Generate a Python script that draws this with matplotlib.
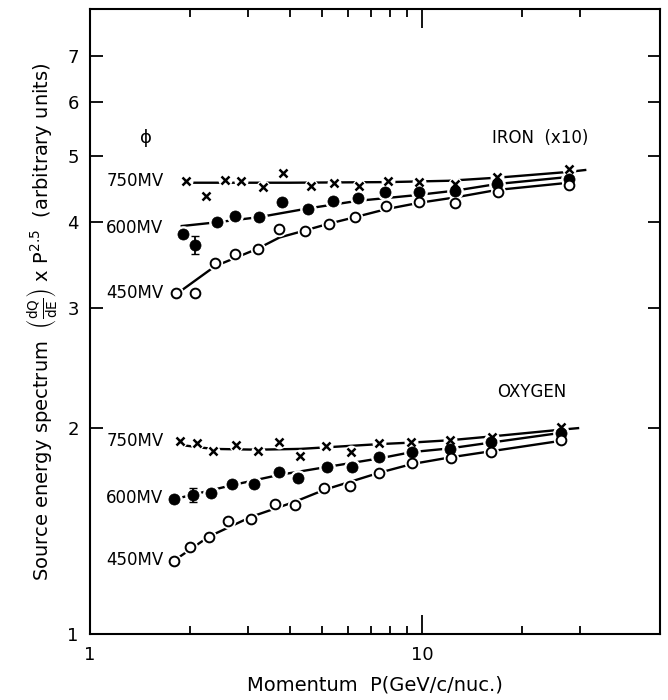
import numpy as np
import matplotlib
matplotlib.use("Agg")
import matplotlib.pyplot as plt
from matplotlib.ticker import FixedLocator, NullFormatter

plt.rcParams['font.family'] = ['DejaVu Sans']
plt.rcParams['mathtext.default'] = 'regular'

# ---- dados ----
# IRON (x10)
fe750_x = [1.95, 2.23, 2.55, 2.84, 3.32, 3.82, 4.62, 5.43, 6.48, 7.91, 9.79, 12.6, 16.8, 27.7]
fe750_y = [4.60, 4.37, 4.61, 4.60, 4.50, 4.73, 4.52, 4.57, 4.52, 4.60, 4.58, 4.55, 4.66, 4.78]
fe600_x = [1.91, 2.07, 2.41, 2.74, 3.23, 3.80, 4.52, 5.40, 6.41, 7.75, 9.77, 12.6, 16.8, 27.7]
fe600_y = [3.85, 3.71, 4.00, 4.08, 4.07, 4.28, 4.19, 4.30, 4.34, 4.43, 4.43, 4.44, 4.55, 4.62]
fe450_x = [1.82, 2.07, 2.38, 2.73, 3.20, 3.72, 4.43, 5.23, 6.29, 7.78, 9.77, 12.6, 16.9, 27.7]
fe450_y = [3.15, 3.15, 3.49, 3.59, 3.66, 3.91, 3.88, 3.98, 4.07, 4.22, 4.28, 4.27, 4.43, 4.54]

# OXYGEN
ox750_x = [1.87, 2.10, 2.34, 2.75, 3.20, 3.70, 4.29, 5.15, 6.12, 7.40, 9.28, 12.1, 16.2, 26.3]
ox750_y = [1.917, 1.905, 1.852, 1.888, 1.852, 1.907, 1.820, 1.883, 1.848, 1.905, 1.909, 1.921, 1.943, 2.005]
ox600_x = [1.79, 2.04, 2.32, 2.67, 3.12, 3.70, 4.23, 5.17, 6.15, 7.43, 9.31, 12.1, 16.1, 26.3]
ox600_y = [1.574, 1.597, 1.609, 1.657, 1.657, 1.723, 1.692, 1.753, 1.755, 1.813, 1.845, 1.862, 1.910, 1.969]
ox450_x = [1.79, 1.995, 2.28, 2.60, 3.06, 3.61, 4.14, 5.08, 6.05, 7.43, 9.31, 12.2, 16.1, 26.3]
ox450_y = [1.280, 1.339, 1.388, 1.463, 1.474, 1.548, 1.544, 1.633, 1.644, 1.721, 1.780, 1.808, 1.843, 1.921]

# barras de erro (só um ponto em cada série de 600MV)
fe600_err_idx = 1
fe600_err = 0.11
ox600_err_idx = 1
ox600_err = 0.04

# curvas ajustadas
fe750_cx = [1.95, 4.0, 8.0, 12.0, 17.0, 27.7, 31.0]
fe750_cy = [4.57, 4.57, 4.58, 4.60, 4.65, 4.74, 4.77]
fe600_cx = [1.89, 2.41, 3.23, 4.52, 6.41, 9.47, 12.6, 16.8, 27.7]
fe600_cy = [3.95, 4.00, 4.07, 4.19, 4.30, 4.38, 4.45, 4.55, 4.66]
fe450_cx = [1.87, 2.38, 3.20, 3.72, 4.43, 5.23, 6.29, 7.78, 9.77, 12.6, 16.8, 27.7]
fe450_cy = [3.17, 3.45, 3.66, 3.80, 3.89, 3.98, 4.07, 4.18, 4.27, 4.35, 4.46, 4.57]

ox750_cx = [1.87, 2.34, 3.2, 4.3, 5.15, 7.4, 9.28, 12.1, 16.2, 26.3, 29.5]
ox750_cy = [1.89, 1.865, 1.86, 1.865, 1.875, 1.895, 1.905, 1.92, 1.945, 1.99, 2.0]
ox600_cx = [1.79, 2.67, 3.70, 5.17, 7.43, 9.31, 12.1, 16.1, 26.3]
ox600_cy = [1.574, 1.65, 1.708, 1.755, 1.806, 1.845, 1.868, 1.905, 1.969]
ox450_cx = [1.79, 2.28, 3.06, 4.14, 5.08, 7.43, 9.31, 12.2, 16.1, 26.3]
ox450_cy = [1.28, 1.388, 1.484, 1.561, 1.625, 1.721, 1.772, 1.813, 1.85, 1.917]

x_ticks_major = [1, 10]
x_ticks_minor = [2, 3, 4, 5, 6, 7, 8, 9, 20, 30]
y_ticks = [1, 2, 3, 4, 5, 6, 7]

# ---- figura ----
fig = plt.figure(figsize=(6.68, 7.00), dpi=100)
ax = fig.add_axes([0.1347, 0.0943, 0.853, 0.8927])
ax.set_xscale('log')
ax.set_yscale('log')
ax.set_xlim(1, 52)
ax.set_ylim(1, 8.2)

# curvas
for cx, cy in [(fe750_cx, fe750_cy), (fe600_cx, fe600_cy), (fe450_cx, fe450_cy),
               (ox750_cx, ox750_cy), (ox600_cx, ox600_cy), (ox450_cx, ox450_cy)]:
    ax.plot(cx, cy, color='black', lw=1.7, zorder=2)

# pontos - cruzes com "buraco" branco por trás
for xs, ys in [(fe750_x, fe750_y), (ox750_x, ox750_y)]:
    ax.plot(xs, ys, 'o', ms=9, color='white', zorder=3)
    ax.plot(xs, ys, 'x', ms=6, mew=1.8, color='black', zorder=4)

for xs, ys in [(fe600_x, fe600_y), (ox600_x, ox600_y)]:
    ax.plot(xs, ys, 'o', ms=11, color='white', zorder=3)
    ax.plot(xs, ys, 'o', ms=8, mfc='black', mec='black', mew=0.5, zorder=4)

for xs, ys in [(fe450_x, fe450_y), (ox450_x, ox450_y)]:
    ax.plot(xs, ys, 'o', ms=10, color='white', zorder=3)
    ax.plot(xs, ys, 'o', ms=7, mfc='white', mec='black', mew=1.4, zorder=4)

ax.errorbar([fe600_x[fe600_err_idx]], [fe600_y[fe600_err_idx]], yerr=fe600_err,
            fmt='none', ecolor='black', elinewidth=1.3, capsize=3, zorder=3.5)
ax.errorbar([ox600_x[ox600_err_idx]], [ox600_y[ox600_err_idx]], yerr=ox600_err,
            fmt='none', ecolor='black', elinewidth=1.3, capsize=3, zorder=3.5)

# textos
fs = 12
ax.text(1.47, 5.31, r'$\phi$', fontsize=fs + 1, ha='center', va='center')
ax.text(31.7, 5.31, 'IRON  (x10)', fontsize=fs, ha='right', va='center')
ax.text(27.2, 2.26, 'OXYGEN', fontsize=fs, ha='right', va='center')
for yv, lab in [(4.60, '750MV'), (3.92, '600MV'), (3.15, '450MV'),
                (1.915, '750MV'), (1.58, '600MV'), (1.283, '450MV')]:
    ax.text(1.12, yv, lab, fontsize=fs, ha='left', va='center')

# eixos
ax.xaxis.set_major_locator(FixedLocator(x_ticks_major))
ax.xaxis.set_minor_locator(FixedLocator(x_ticks_minor))
ax.xaxis.set_minor_formatter(NullFormatter())
ax.set_xticklabels(['1', '10'])
ax.yaxis.set_major_locator(FixedLocator(y_ticks))
ax.yaxis.set_minor_locator(FixedLocator([]))
ax.yaxis.set_minor_formatter(NullFormatter())
ax.set_yticklabels([str(v) for v in y_ticks])

ax.tick_params(which='both', direction='in', top=True, right=True, width=1.3, labelsize=13)
ax.tick_params(axis='x', which='major', length=14, pad=9)
ax.tick_params(axis='x', which='minor', length=6)
ax.tick_params(axis='y', which='major', length=9, pad=8)
for s in ax.spines.values():
    s.set_linewidth(1.5)

ax.set_xlabel('Momentum  P(GeV/c/nuc.)', fontsize=14, labelpad=8)
ax.set_ylabel(r'Source energy spectrum  $\left(\frac{dQ}{dE}\right)$ x P$^{2.5}$  (arbitrary units)',
              fontsize=14, labelpad=6)

fig.savefig('out.png', dpi=100)
